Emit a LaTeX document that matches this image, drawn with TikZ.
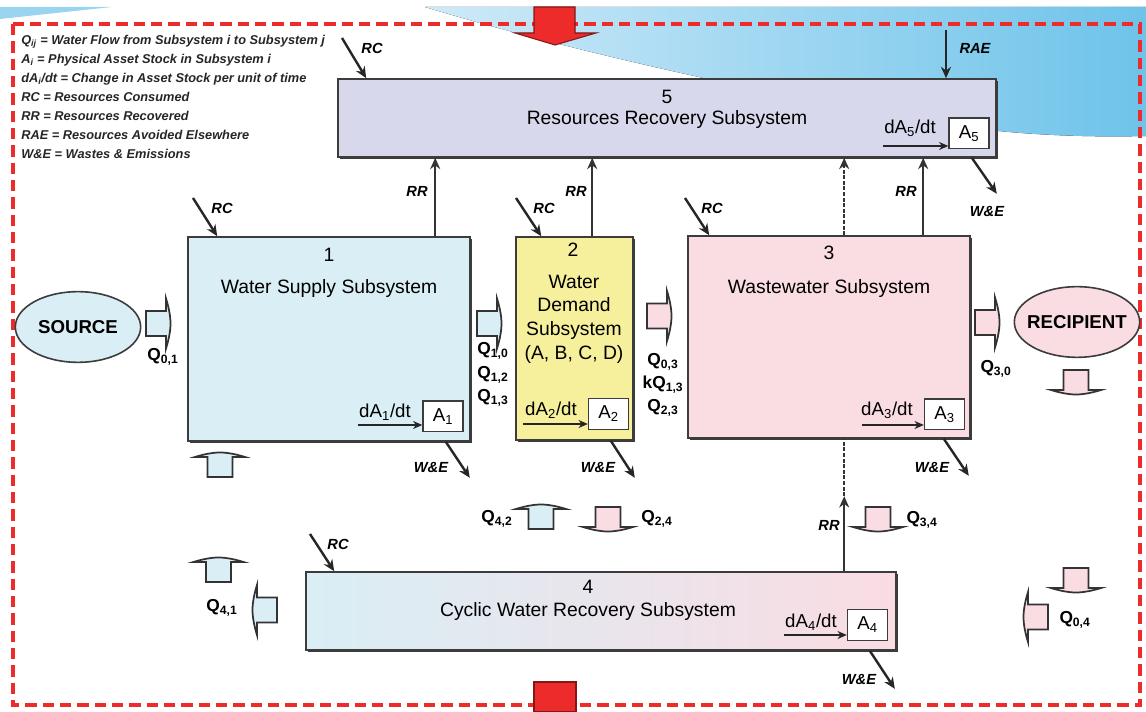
\documentclass[tikz,border=0pt]{standalone}
\usepackage{fontspec}
\setmainfont{Liberation Sans}
\usepackage{xcolor}
\usetikzlibrary{arrows.meta,calc,positioning,shapes.geometric,shadows}
\definecolor{SupplyBlue}{HTML}{D9EEF5}
\definecolor{DemandYellow}{HTML}{F6F09C}
\definecolor{WastePink}{HTML}{FADCE3}
\definecolor{RecoveryLilac}{HTML}{D8D8EC}
\definecolor{CyclicGray}{HTML}{E6E9EE}
\definecolor{FrameRed}{HTML}{EE2B2B}
\definecolor{WaveBlue}{HTML}{6EC3EA}
\definecolor{WaveLight}{HTML}{CFEAF8}
\definecolor{EdgeGray}{HTML}{3C3C3C}
\tikzset{
  subsys/.style={draw=EdgeGray, line width=1.2pt, inner sep=0pt, general shadow={fill=EdgeGray, shadow xshift=1.4pt, shadow yshift=-1.4pt}},
  stockbox/.style={draw=EdgeGray, fill=white, line width=1pt, minimum width=30pt, minimum height=23pt, inner sep=0pt, font=\fontsize{14}{16}\selectfont},
  numtext/.style={inner sep=0pt, font=\fontsize{14.5}{17}\selectfont},
  titletext/.style={inner sep=0pt, align=center, font=\fontsize{14.5}{17.8}\selectfont},
  stocktext/.style={inner sep=0pt, font=\fontsize{14}{16}\selectfont},
  flowlbl/.style={inner sep=0pt, font=\fontsize{11}{13}\selectfont\bfseries\itshape},
  qlbl/.style={inner sep=0pt, font=\fontsize{13}{15}\selectfont\bfseries},
  endpoint/.style={ellipse, draw=EdgeGray, line width=1.2pt, minimum width=94pt, minimum height=53pt, inner sep=0pt},
  endtext/.style={inner sep=0pt, font=\fontsize{14}{16}\selectfont\bfseries},
  legendtext/.style={inner sep=0pt, align=left, text=black!85, font=\fontsize{9.6}{14.25}\selectfont\bfseries\itshape},
  rcarrow/.style={-{Stealth[length=8.5pt,width=7.5pt]}, line width=1.8pt, draw=black!85},
  rrarrow/.style={-{Stealth[length=8.5pt,width=7.5pt]}, line width=1.7pt, draw=black!80},
  dashline/.style={line width=1.9pt, draw=black!80, dash pattern=on 3pt off 1.2pt},
  stockarrow/.style={-{Stealth[length=7pt,width=6pt]}, line width=1.2pt, draw=black!85},
  boundary/.style={draw=FrameRed, line width=3pt, dash pattern=on 8.5pt off 4.5pt},
  pics/flowarr/.style={code={
    \filldraw[fill=#1, draw=black!80, line width=1.3pt] (-20,-12.5) -- (0,-12.5) -- (0,-25)
      .. controls (2.5,-17) and (4.5,-8) .. (4.5,0) .. controls (4.5,8) and (2.5,17) .. (0,25)
      -- (0,12.5) -- (-20,12.5) -- cycle;
  }}
}

\begin{document}
\begin{tikzpicture}[x=0.75pt, y=-0.75pt]
  \useasboundingbox (0,0) rectangle (1146,712);
  % background wave and frame
  \fill[left color=WaveLight, right color=WaveBlue] (425,7) -- (1146,7) -- (1146,136)
    .. controls (1060,138) and (990,132) .. (930,122)
    .. controls (820,104) and (600,60) .. (425,7) -- cycle;
  \fill[WaveBlue!70] (0,7) -- (112,7) -- (0,19) -- cycle;
  \draw[boundary] (13,24) rectangle (1140,705);
  \filldraw[fill=FrameRed, draw=FrameRed!55!black, line width=0.8pt] (534,7) -- (575,7) -- (575,33) -- (596,33) -- (555,45) -- (515,33) -- (534,33) -- cycle;
  \filldraw[fill=FrameRed, draw=FrameRed!55!black, line width=0.8pt] (534,682) rectangle (576,712);

  % legend
  \node[legendtext, anchor=north west] (legend) at (21,35) {Q\textsubscript{ij} = Water Flow from Subsystem i to Subsystem j\\
    A\textsubscript{i} = Physical Asset Stock in Subsystem i\\
    dA\textsubscript{i}/dt = Change in Asset Stock per unit of time\\
    RC = Resources Consumed\\
    RR = Resources Recovered\\
    RAE = Resources Avoided Elsewhere\\
    W\&E = Wastes \& Emissions};

  % subsystems
  \node[subsys, fill=RecoveryLilac, minimum width=493.5pt, minimum height=58.5pt] (box5) at (667,118) {};
  \node[subsys, fill=SupplyBlue, minimum width=211.5pt, minimum height=153pt] (box1) at (329,339) {};
  \node[subsys, fill=DemandYellow, minimum width=87.75pt, minimum height=152.25pt] (box2) at (574.5,338.5) {};
  \node[subsys, fill=WastePink, minimum width=211.5pt, minimum height=151.5pt] (box3) at (829,337) {};
  \node[subsys, left color=SupplyBlue, middle color=CyclicGray, right color=WastePink, minimum width=442.5pt, minimum height=58.5pt] (box4) at (601,611) {};

  \node[numtext] (n5) at (667,97) {5};
  \node[titletext] (t5) at (667,120) {Resources Recovery Subsystem};
  \node[numtext] (n1) at (329,255) {1};
  \node[titletext] (t1) at (329,289) {Water Supply Subsystem};
  \node[numtext] (n2) at (573,250) {2};
  \node[titletext] (t2) at (574,319) {Water\\Demand\\Subsystem\\(A, B, C, D)};
  \node[numtext] (n3) at (829,253) {3};
  \node[titletext] (t3) at (829,289) {Wastewater Subsystem};
  \node[numtext] (n4) at (588,587) {4};
  \node[titletext] (t4) at (588,612) {Cyclic Water Recovery Subsystem};

  % asset stocks
  \node[stockbox] (a5) at (969,133.5) {A\textsubscript{5}};
  \node[stockbox] (a1) at (443,416.5) {A\textsubscript{1}};
  \node[stockbox] (a2) at (608.5,414) {A\textsubscript{2}};
  \node[stockbox] (a3) at (944.5,414.5) {A\textsubscript{3}};
  \node[stockbox] (a4) at (867.5,625) {A\textsubscript{4}};
  \node[stocktext] (d5) at (910,128) {dA\textsubscript{5}/dt};
  \node[stocktext] (d1) at (385,412) {dA\textsubscript{1}/dt};
  \node[stocktext] (d2) at (551,410) {dA\textsubscript{2}/dt};
  \node[stocktext] (d3) at (887,410) {dA\textsubscript{3}/dt};
  \node[stocktext] (d4) at (811,622) {dA\textsubscript{4}/dt};
  \coordinate (s5) at (883,146);
  \coordinate (s1) at (358,425);
  \coordinate (s2) at (523,424);
  \coordinate (s3) at (862,425);
  \coordinate (s4) at (784,635);
  \draw[stockarrow] (s5) -- (s5 -| a5.west);
  \draw[stockarrow] (s1) -- (s1 -| a1.west);
  \draw[stockarrow] (s2) -- (s2 -| a2.west);
  \draw[stockarrow] (s3) -- (s3 -| a3.west);
  \draw[stockarrow] (s4) -- (s4 -| a4.west);

  % sources and sinks
  \node[endpoint, fill=SupplyBlue] (source) at (78,327) {};
  \node[endtext] (sourcetxt) at (source) {SOURCE};
  \node[endpoint, fill=WastePink] (recipient) at (1077,322) {};
  \node[endtext] (recipienttxt) at (recipient) {RECIPIENT};

  % resources consumed / avoided
  \coordinate (rc5) at (342,38);
  \coordinate (rc1) at (193,198);
  \coordinate (rc2) at (516,198);
  \coordinate (rc3) at (685,198);
  \coordinate (rc4) at (310,534);
  \coordinate (rae) at (946,30);
  \draw[rcarrow] (rc5) -- ($(box5.north west)+(29,0)$);
  \draw[rcarrow] (rc1) -- ($(box1.north west)+(30,0)$);
  \draw[rcarrow] (rc2) -- ($(box2.north west)+(26,0)$);
  \draw[rcarrow] (rc3) -- ($(box3.north west)+(22,0)$);
  \draw[rcarrow] (rc4) -- ($(box4.north west)+(29,0)$);
  \draw[rcarrow] (rae) -- (rae |- box5.north);
  \node[flowlbl] (rc5l) at (372,48) {RC};
  \node[flowlbl] (rc1l) at (222,208) {RC};
  \node[flowlbl] (rc2l) at (544,208) {RC};
  \node[flowlbl] (rc3l) at (712,208) {RC};
  \node[flowlbl] (rc4l) at (338,544) {RC};
  \node[flowlbl] (rael) at (975,48) {RAE};

  % resources recovered
  \draw[rrarrow] ($(box1.north west)+(248,0)$) coordinate (rr1) -- (rr1 |- box5.south);
  \draw[rrarrow] ($(box2.north west)+(77,0)$) coordinate (rr2) -- (rr2 |- box5.south);
  \draw[rrarrow] ($(box3.north west)+(236,0)$) coordinate (rr3) -- (rr3 |- box5.south);
  \draw[rrarrow, line width=1.9pt, dash pattern=on 3pt off 1.2pt] ($(box3.north west)+(157,0)$) coordinate (rr3d) -- (rr3d |- box5.south);
  \draw[rrarrow] ($(box4.north west)+(539,0)$) coordinate (rr4) -- ++(0,-75) coordinate (rr4tip);
  \draw[dashline] (rr4tip) -- (rr4tip |- box3.south);
  \node[flowlbl] (rr1l) at (417,191) {RR};
  \node[flowlbl] (rr2l) at (576,191) {RR};
  \node[flowlbl] (rr3l) at (906,191) {RR};
  \node[flowlbl] (rr4l) at (829,525) {RR};

  % wastes and emissions
  \draw[rcarrow] ($(box5.south east)+(-25,0)$) -- ++(25,36) coordinate (we5);
  \draw[rcarrow] ($(box1.south east)+(-25,0)$) -- ++(24,36) coordinate (we1);
  \draw[rcarrow] ($(box2.south east)+(-23,0)$) -- ++(24,37) coordinate (we2);
  \draw[rcarrow] ($(box3.south east)+(-27,0)$) -- ++(25,37) coordinate (we3);
  \draw[rcarrow] ($(box4.south east)+(-27,0)$) -- ++(25,38) coordinate (we4);
  \node[flowlbl] (we5l) at (987,212) {W\&E};
  \node[flowlbl] (we1l) at (431,467) {W\&E};
  \node[flowlbl] (we2l) at (598,467) {W\&E};
  \node[flowlbl] (we3l) at (932,467) {W\&E};
  \node[flowlbl] (we4l) at (859,679) {W\&E};

  % water flows
  \pic at (166,323.5) {flowarr=SupplyBlue};
  \pic at (497,323.5) {flowarr=SupplyBlue};
  \pic at (667,316) {flowarr=WastePink};
  \pic at (995,322.5) {flowarr=WastePink};
  \pic[rotate=90] at (220,457) {flowarr=SupplyBlue};
  \pic[rotate=-90] at (1076,390) {flowarr=WastePink};
  \pic[rotate=90] at (541,509) {flowarr=SupplyBlue};
  \pic[rotate=-90] at (608,527) {flowarr=WastePink};
  \pic[rotate=-90] at (878,527) {flowarr=WastePink};
  \pic[rotate=90] at (218.5,562) {flowarr=SupplyBlue};
  \pic[rotate=180] at (257,610) {flowarr=SupplyBlue};
  \pic[rotate=-90] at (1076,588) {flowarr=WastePink};
  \pic[rotate=180] at (1028,617) {flowarr=WastePink};

  \node[qlbl] (q01) at (163,357) {Q\textsubscript{0,1}};
  \node[qlbl] (q10) at (493,351) {Q\textsubscript{1,0}};
  \node[qlbl] (q12) at (493,375) {Q\textsubscript{1,2}};
  \node[qlbl] (q13) at (493,398) {Q\textsubscript{1,3}};
  \node[qlbl] (q03) at (663,362) {Q\textsubscript{0,3}};
  \node[qlbl] (kq13) at (663,385) {kQ\textsubscript{1,3}};
  \node[qlbl] (q23) at (663,408) {Q\textsubscript{2,3}};
  \node[qlbl] (q30) at (996,369) {Q\textsubscript{3,0}};
  \node[qlbl] (q42) at (497,519) {Q\textsubscript{4,2}};
  \node[qlbl] (q24) at (657,519) {Q\textsubscript{2,4}};
  \node[qlbl] (q34) at (922,520) {Q\textsubscript{3,4}};
  \node[qlbl] (q41) at (222,608) {Q\textsubscript{4,1}};
  \node[qlbl] (q04) at (1075,620) {Q\textsubscript{0,4}};
\end{tikzpicture}
\end{document}
